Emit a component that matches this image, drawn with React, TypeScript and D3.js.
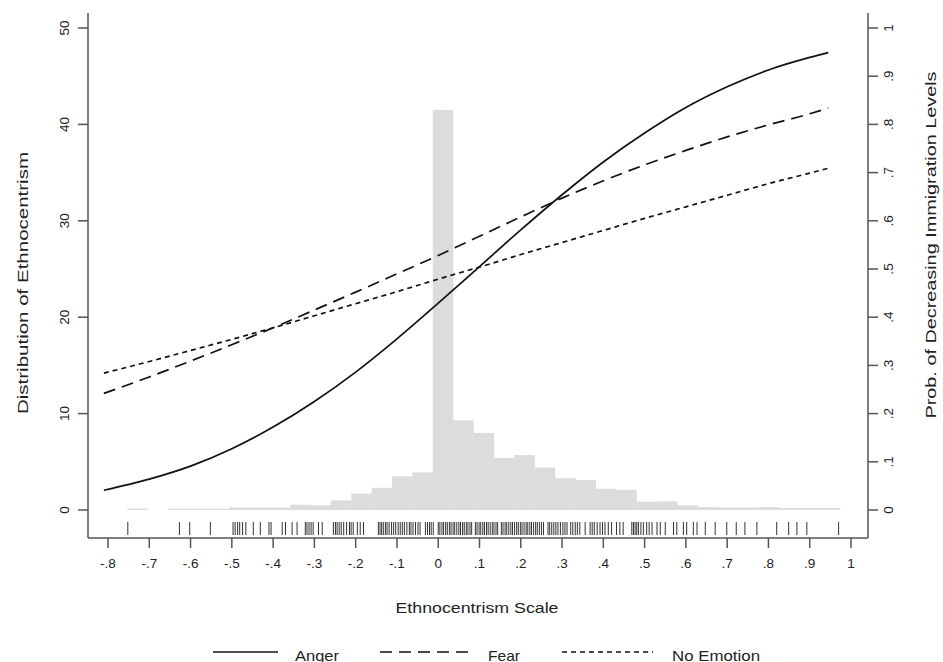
import React from 'react'
import * as d3 from 'd3'

// x positions where the predicted curves were read
const curveX = [-0.81, -0.7, -0.6, -0.5, -0.4, -0.3, -0.2, -0.1, 0, 0.1, 0.2, 0.3, 0.4, 0.5, 0.6, 0.7, 0.8, 0.9, 0.945]
const anger = [0.041, 0.064, 0.091, 0.127, 0.172, 0.225, 0.286, 0.355, 0.429, 0.505, 0.581, 0.654, 0.722, 0.782, 0.835, 0.878, 0.913, 0.939, 0.949]
const fear = [0.242, 0.276, 0.309, 0.343, 0.378, 0.415, 0.452, 0.49, 0.528, 0.568, 0.608, 0.647, 0.683, 0.716, 0.746, 0.774, 0.799, 0.822, 0.834]
const noEmotion = [0.284, 0.308, 0.331, 0.354, 0.378, 0.403, 0.428, 0.453, 0.479, 0.504, 0.53, 0.555, 0.58, 0.605, 0.629, 0.653, 0.677, 0.699, 0.709]

// histogram (percent), 35 bins starting at the sample minimum
const histStart = -0.7534
const histWidth = 0.04934
const histValues = [0.15, 0, 0.12, 0.12, 0.12, 0.25, 0.25, 0.25, 0.55, 0.5, 1.0, 1.7, 2.3, 3.5, 3.9, 41.5, 9.3, 8.0, 5.4, 5.7, 4.4, 3.3, 3.1, 2.2, 2.1, 0.85, 0.9, 0.5, 0.3, 0.25, 0.25, 0.3, 0.2, 0.2, 0.2]

// rug of observed ethnocentrism values
const rugValues = [
  -0.752, -0.627, -0.602, -0.552,
  -0.497, -0.492, -0.486, -0.481, -0.474, -0.466, -0.448, -0.431, -0.41, -0.405, -0.378, -0.37, -0.354, -0.342,
  -0.322, -0.318, -0.313, -0.308, -0.303, -0.29, -0.281,
  -0.254, -0.249, -0.245, -0.24, -0.235, -0.229, -0.222, -0.215, -0.211, -0.206, -0.196, -0.189, -0.181,
  -0.145, -0.141, -0.137, -0.133, -0.128, -0.124, -0.119, -0.113, -0.108, -0.103, -0.097, -0.092,
  -0.087, -0.082, -0.076, -0.07, -0.066, -0.061, -0.055, -0.049, -0.044,
  -0.031, -0.026, -0.021, -0.017, -0.012,
  0.0, 0.004, 0.009, 0.013, 0.018, 0.022, 0.027, 0.031, 0.036, 0.04, 0.045, 0.05, 0.054, 0.059, 0.063, 0.068, 0.072, 0.077, 0.081,
  0.09, 0.094, 0.099, 0.103, 0.108, 0.112, 0.117, 0.121, 0.126, 0.131, 0.135, 0.14, 0.144,
  0.153, 0.157, 0.162, 0.166, 0.171, 0.176, 0.18, 0.185, 0.19, 0.194, 0.199, 0.203, 0.208, 0.213, 0.217, 0.222, 0.226, 0.231, 0.236, 0.24, 0.245, 0.25, 0.255,
  0.266, 0.27, 0.275, 0.28, 0.285, 0.29, 0.296, 0.302, 0.307, 0.312, 0.321, 0.326, 0.332, 0.337, 0.343, 0.356,
  0.368, 0.373, 0.378, 0.385, 0.392, 0.398, 0.404, 0.412, 0.42, 0.432, 0.44, 0.448,
  0.469, 0.473, 0.477, 0.481, 0.485, 0.491, 0.497, 0.505, 0.511, 0.518, 0.53, 0.538, 0.55, 0.57, 0.578, 0.594, 0.602,
  0.618, 0.627, 0.647, 0.671, 0.699, 0.722, 0.743, 0.772, 0.82, 0.849, 0.869, 0.893, 0.97
]

const xTicks = [-0.8, -0.7, -0.6, -0.5, -0.4, -0.3, -0.2, -0.1, 0, 0.1, 0.2, 0.3, 0.4, 0.5, 0.6, 0.7, 0.8, 0.9, 1]
const leftTicks = [0, 10, 20, 30, 40, 50]
const rightTicks = [0, 0.1, 0.2, 0.3, 0.4, 0.5, 0.6, 0.7, 0.8, 0.9, 1]

const legendItems = [
  { name: 'Anger', dash: null },
  { name: 'Fear', dash: '12,7' },
  { name: 'No Emotion', dash: '5,4' },
]

const font = '"Liberation Sans", Arial, Helvetica, sans-serif'

// stata style: -.8, .1, 0, 1
const fmt = (v: number) => {
  if (Math.abs(v) < 1e-9) return '0'
  if (Math.abs(v - 1) < 1e-9) return '1'
  return (v < 0 ? '-' : '') + '.' + Math.round(Math.abs(v) * 10)
}

export default function App() {
  const left = 88, right = 868, top = 13, axisY = 538

  const x = d3.scaleLinear().domain([-0.8, 1]).range([108, 851])
  const yL = d3.scaleLinear().domain([0, 50]).range([510, 28])
  const yR = d3.scaleLinear().domain([0, 1]).range([510, 28])

  const line = d3.line<[number, number]>()
    .x(d => x(d[0]))
    .y(d => yR(d[1]))
    .curve(d3.curveMonotoneX)

  const series = [
    { vals: anger, dash: null },
    { vals: fear, dash: '12,7' },
    { vals: noEmotion, dash: '5,4' },
  ]

  const legendX = [
    { l0: 213, l1: 278, t: 295, w: 44 },
    { l0: 380, l1: 473, t: 488, w: 32 },
    { l0: 562, l1: 653, t: 672, w: 88 },
  ]

  return (
    <svg width={943} height={662} style={{ position: 'absolute', left: 0, top: 0, background: '#fff' }} fontFamily={font}>
      <rect x={0} y={0} width={943} height={662} fill="#fff" />

      {/* histogram */}
      {histValues.map((v, i) => {
        const x0 = x(histStart + i * histWidth)
        const x1 = x(histStart + (i + 1) * histWidth)
        return v > 0 ? (
          <rect key={'h' + i} x={x0} y={yL(v)} width={x1 - x0 + 0.3} height={yL(0) - yL(v)} fill="#dcdcdc" />
        ) : null
      })}

      {/* rug */}
      {rugValues.map((v, i) => (
        <line key={'r' + i} x1={x(v)} x2={x(v)} y1={522} y2={535} stroke="#333" strokeWidth={1} />
      ))}

      {/* curves */}
      {series.map((s, i) => (
        <path key={'c' + i} d={line(curveX.map((cx, j) => [cx, s.vals[j]] as [number, number])) || ''}
          fill="none" stroke="#111" strokeWidth={1.7} strokeDasharray={s.dash || undefined} />
      ))}

      {/* axes */}
      <g stroke="#555" strokeWidth={1.5} fill="none">
        <line x1={left} x2={left} y1={top} y2={axisY} />
        <line x1={right} x2={right} y1={top} y2={axisY} />
        <line x1={left} x2={right} y1={axisY} y2={axisY} />
        {xTicks.map(t => <line key={'xt' + t} x1={x(t)} x2={x(t)} y1={axisY} y2={axisY + 10} />)}
        {leftTicks.map(t => <line key={'lt' + t} x1={left - 10} x2={left} y1={yL(t)} y2={yL(t)} />)}
        {rightTicks.map(t => <line key={'rt' + t} x1={right} x2={right + 10} y1={yR(t)} y2={yR(t)} />)}
      </g>

      <g fill="#222" fontSize={13.5}>
        {xTicks.map(t => (
          <text key={'xl' + t} x={x(t)} y={563} textAnchor="middle" dominantBaseline="central">{fmt(t)}</text>
        ))}
        {leftTicks.map(t => (
          <text key={'ll' + t} transform={`translate(64,${yL(t)}) rotate(-90)`} textAnchor="middle" dominantBaseline="central">{t}</text>
        ))}
        {rightTicks.map(t => (
          <text key={'rl' + t} transform={`translate(888,${yR(t)}) rotate(-90)`} textAnchor="middle" dominantBaseline="central">{fmt(t)}</text>
        ))}
      </g>

      {/* titles */}
      <g fill="#222" fontSize={15}>
        <text x={477} y={607} textAnchor="middle" dominantBaseline="central" textLength={163} lengthAdjust="spacingAndGlyphs">Ethnocentrism Scale</text>
        <text transform="translate(22,283) rotate(-90)" textAnchor="middle" dominantBaseline="central" textLength={262} lengthAdjust="spacingAndGlyphs">Distribution of Ethnocentrism</text>
        <text transform="translate(930,245) rotate(-90)" textAnchor="middle" dominantBaseline="central" textLength={347} lengthAdjust="spacingAndGlyphs">Prob. of Decreasing Immigration Levels</text>
      </g>

      {/* legend */}
      {legendItems.map((it, i) => (
        <g key={'lg' + i}>
          <line x1={legendX[i].l0} x2={legendX[i].l1} y1={652} y2={652} stroke="#111" strokeWidth={1.7}
            strokeDasharray={it.dash || undefined} />
          <text x={legendX[i].t} y={655} fontSize={15} fill="#222" dominantBaseline="central"
            textLength={legendX[i].w} lengthAdjust="spacingAndGlyphs">{it.name}</text>
        </g>
      ))}
    </svg>
  )
}
